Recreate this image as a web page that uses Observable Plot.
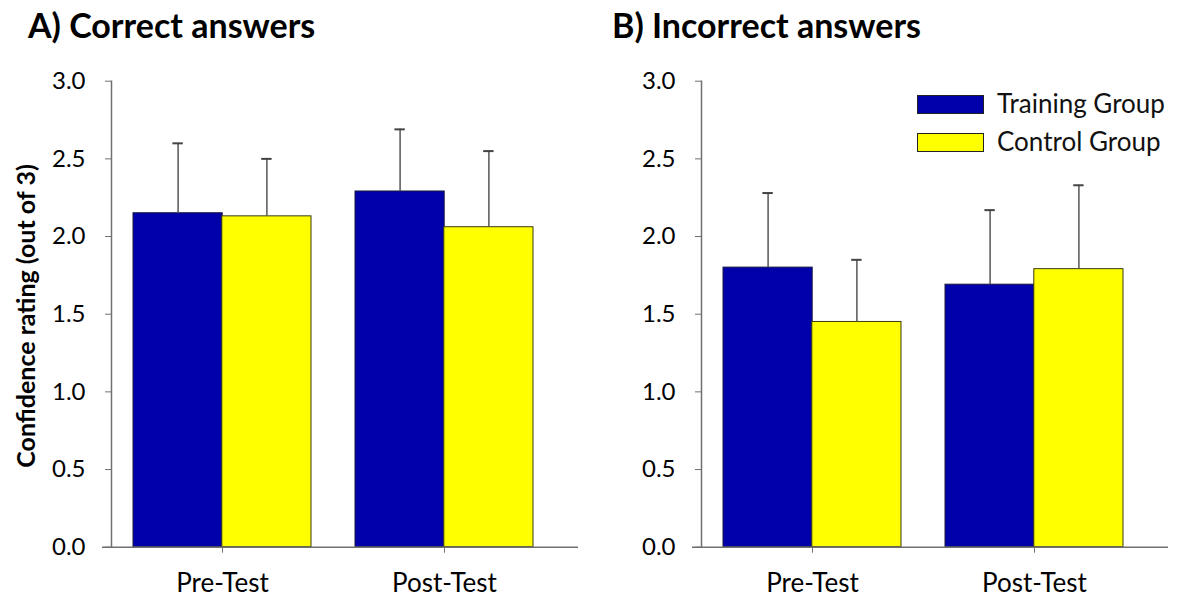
<!DOCTYPE html>
<html>
<head>
<meta charset="utf-8">
<script src="https://cdn.jsdelivr.net/npm/d3@7"></script>
<script src="https://cdn.jsdelivr.net/npm/@observablehq/plot@0.6"></script>
<style>
  html, body { margin: 0; padding: 0; background: #fff; }
  #root { position: relative; width: 1184px; height: 603px; overflow: hidden; font-family: Lato, "Open Sans", sans-serif; }
  .title { position: absolute; font-weight: 700; font-size: 34px; color: #000; line-height: 1; white-space: nowrap; }
  .ylab { position: absolute; font-weight: 700; font-size: 25px; color: #000; white-space: nowrap; transform: translate(-50%, -50%) rotate(-90deg); }
  .panel { position: absolute; top: 0; }
  .legend { position: absolute; font-size: 26px; color: #111; }
  .legend .item { position: absolute; white-space: nowrap; }
  .legend .sw { position: absolute; width: 67px; height: 19px; box-sizing: border-box; border: 1px solid #222; }
</style>
</head>
<body>
<div id="root">
  <div class="title" style="left:28px; top:8px;">A) Correct answers</div>
  <div class="title" style="left:612px; top:8px;">B) Incorrect answers</div>
  <div class="ylab" style="left:25px; top:316px;">Confidence rating (out of 3)</div>
  <div id="panelA" class="panel" style="left:0px;"></div>
  <div id="panelB" class="panel" style="left:590px;"></div>
  <div id="legend" class="legend"></div>
</div>
<script>
// ---- data ----
const tests = ["Pre-Test", "Post-Test"];
const groups = ["Training Group", "Control Group"];
const groupColors = ["#0000AA", "#FFFF00"];
const yTicks = [0, 0.5, 1.0, 1.5, 2.0, 2.5, 3.0];

const correctTraining = [2.15, 2.29];
const correctTrainingSD = [0.45, 0.40];
const correctControl = [2.13, 2.06];
const correctControlSD = [0.37, 0.49];

const incorrectTraining = [1.80, 1.69];
const incorrectTrainingSD = [0.48, 0.48];
const incorrectControl = [1.45, 1.79];
const incorrectControlSD = [0.40, 0.54];

function rows(trainMeans, trainSD, ctrlMeans, ctrlSD) {
  const out = [];
  tests.forEach((t, i) => {
    out.push({test: t, group: groups[0], mean: trainMeans[i], upper: trainMeans[i] + trainSD[i]});
    out.push({test: t, group: groups[1], mean: ctrlMeans[i], upper: ctrlMeans[i] + ctrlSD[i]});
  });
  return out;
}

const W = 594, H = 603;
const mL = 111, mT = 80.7, mB = 56.3, mR = 16;
const rangeX = [mL, mL + 444];
const pIn = 0.2, pOut = 0.1;
const step = (rangeX[1] - rangeX[0]) / (tests.length - pIn + 2 * pOut);
const bw = step * (1 - pIn);
const half = bw / 2;
const cap = 5;

function panel(data) {
  const tr = data.filter(d => d.group === groups[0]);
  const ct = data.filter(d => d.group === groups[1]);
  return Plot.plot({
    width: W, height: H,
    marginLeft: mL, marginRight: mR, marginTop: mT, marginBottom: mB,
    style: {fontFamily: "Lato, 'Open Sans', sans-serif", fontSize: "24px", background: "transparent", color: "#000"},
    x: {type: "band", domain: tests, range: rangeX, paddingInner: pIn, paddingOuter: pOut, axis: null},
    y: {domain: [0, 3], axis: null},
    marks: [
      Plot.frame({anchor: "left", stroke: "#707070", strokeWidth: 1.5}),
      Plot.axisY({ticks: yTicks, tickFormat: d => d.toFixed(1), tickSize: 6, tickPadding: 20, stroke: "#707070", fill: "#000", fontSize: 24, label: null}),
      Plot.axisX({tickSize: 6, tickPadding: 20, stroke: "#707070", fill: "#000", fontSize: 26, label: null}),
      Plot.barY(tr, {x: "test", y: "mean", fill: groupColors[0], stroke: "#1a1a40", strokeWidth: 1, insetRight: half}),
      Plot.barY(ct, {x: "test", y: "mean", fill: groupColors[1], stroke: "#3a3a10", strokeWidth: 1, insetLeft: half}),
      Plot.ruleY([0], {stroke: "#707070", strokeWidth: 1.5, insetLeft: -9}),
      Plot.ruleX(tr, {x: "test", y1: "mean", y2: "upper", stroke: "#555", strokeWidth: 1.5, dx: -half / 2}),
      Plot.ruleX(ct, {x: "test", y1: "mean", y2: "upper", stroke: "#555", strokeWidth: 1.5, dx: half / 2}),
      Plot.tickY(tr, {x: "test", y: "upper", stroke: "#444", strokeWidth: 2, insetLeft: half / 2 - cap, insetRight: bw - half / 2 - cap}),
      Plot.tickY(ct, {x: "test", y: "upper", stroke: "#444", strokeWidth: 2, insetLeft: half + half / 2 - cap, insetRight: half / 2 - cap})
    ]
  });
}

document.getElementById("panelA").appendChild(panel(rows(correctTraining, correctTrainingSD, correctControl, correctControlSD)));
document.getElementById("panelB").appendChild(panel(rows(incorrectTraining, incorrectTrainingSD, incorrectControl, incorrectControlSD)));

// legend
const lg = document.getElementById("legend");
groups.forEach((g, i) => {
  const sw = document.createElement("div");
  sw.className = "sw";
  sw.style.left = "917px";
  sw.style.top = (95 + i * 38) + "px";
  sw.style.background = groupColors[i];
  lg.appendChild(sw);
  const tx = document.createElement("div");
  tx.className = "item";
  tx.style.left = "997px";
  tx.style.top = (90 + i * 38) + "px";
  tx.style.lineHeight = "1";
  tx.textContent = g;
  lg.appendChild(tx);
});
</script>
</body>
</html>
